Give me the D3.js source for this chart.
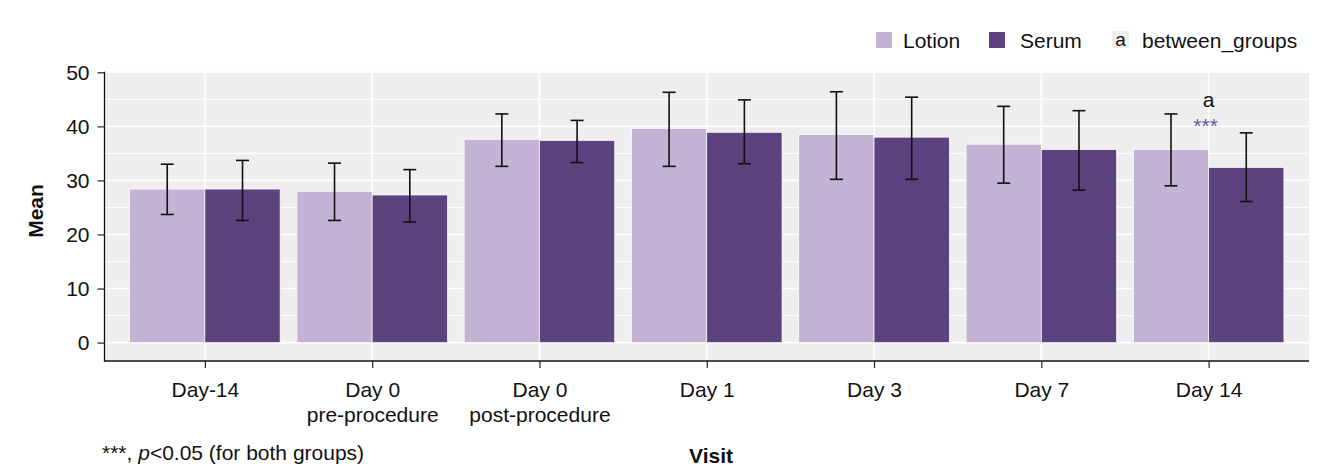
<!DOCTYPE html>
<html>
<head>
<meta charset="utf-8">
<script src="https://cdn.jsdelivr.net/npm/d3@7"></script>
<style>
  html, body { margin: 0; padding: 0; background: #fff; }
  svg { display: block; font-family: "Liberation Sans", Arial, sans-serif; }
</style>
</head>
<body>
<svg id="chart" width="1337" height="473"></svg>
<script>
// ---- data ----
const categories = ["Day-14", "Day 0\npre-procedure", "Day 0\npost-procedure", "Day 1", "Day 3", "Day 7", "Day 14"];
const groups = ["Lotion", "Serum"];
const lotionMean  = [28.4, 28.0, 37.6, 39.6, 38.5, 36.7, 35.7];
const lotionUpper = [33.0, 33.2, 42.3, 46.3, 46.4, 43.7, 42.3];
const lotionLower = [23.7, 22.6, 32.6, 32.6, 30.2, 29.5, 29.0];
const serumMean   = [28.4, 27.3, 37.4, 38.9, 38.0, 35.7, 32.4];
const serumUpper  = [33.7, 32.0, 41.1, 44.9, 45.4, 42.9, 38.8];
const serumLower  = [22.6, 22.3, 33.3, 33.1, 30.2, 28.2, 26.1];
const yTicks = [0, 10, 20, 30, 40, 50];
const yMinor = [5, 15, 25, 35, 45];
const betweenGroupsLetter = {category: "Day 14", label: "a"};
const significance = {category: "Day 14", label: "***"};
const footnote = ["***, ", "p", "<0.05 (for both groups)"];

const colors = {Lotion: "#c5b3d6", Serum: "#5c427e"};
const FS = 21;

const svg = d3.select("#chart");
const panel = {left: 104.5, right: 1309, top: 71.7, bottom: 361};

const x = d3.scalePoint().domain(categories).range([panel.left, panel.right]).padding(0.6);
const step = x.step();
const xg = d3.scaleBand().domain(groups).range([-0.45 * step, 0.45 * step]).padding(0);
const y = d3.scaleLinear().domain([0, 50]).range([342.6, 72.3]);

// panel background
svg.append("rect")
  .attr("x", panel.left).attr("y", panel.top)
  .attr("width", panel.right - panel.left).attr("height", panel.bottom - panel.top)
  .attr("fill", "#eeeeee");

// grid
const grid = svg.append("g");
grid.selectAll("line.minor").data(yMinor).join("line")
  .attr("x1", panel.left).attr("x2", panel.right)
  .attr("y1", d => y(d)).attr("y2", d => y(d))
  .attr("stroke", "#fff").attr("stroke-width", 1);
grid.selectAll("line.major").data(yTicks).join("line")
  .attr("x1", panel.left).attr("x2", panel.right)
  .attr("y1", d => y(d)).attr("y2", d => y(d))
  .attr("stroke", "#fff").attr("stroke-width", 1.6);
grid.selectAll("line.vert").data(categories).join("line")
  .attr("x1", d => x(d)).attr("x2", d => x(d))
  .attr("y1", panel.top).attr("y2", panel.bottom)
  .attr("stroke", "#fff").attr("stroke-width", 1.6);

// rows
const rows = [];
categories.forEach((c, i) => {
  rows.push({cat: c, group: "Lotion", mean: lotionMean[i], lo: lotionLower[i], hi: lotionUpper[i]});
  rows.push({cat: c, group: "Serum", mean: serumMean[i], lo: serumLower[i], hi: serumUpper[i]});
});

// bars
svg.append("g").selectAll("rect").data(rows).join("rect")
  .attr("x", d => x(d.cat) + xg(d.group))
  .attr("width", xg.bandwidth())
  .attr("y", d => y(d.mean))
  .attr("height", d => y(0) - y(d.mean))
  .attr("fill", d => colors[d.group])
  .attr("stroke", "#fff").attr("stroke-width", 0.7);

// error bars
const eb = svg.append("g").attr("stroke", "#111").attr("stroke-width", 1.6).attr("fill", "none");
const capW = 13;
rows.forEach(d => {
  const cx = x(d.cat) + xg(d.group) + xg.bandwidth() / 2;
  eb.append("line").attr("x1", cx).attr("x2", cx).attr("y1", y(d.hi)).attr("y2", y(d.lo));
  eb.append("line").attr("x1", cx - capW / 2).attr("x2", cx + capW / 2).attr("y1", y(d.hi)).attr("y2", y(d.hi));
  eb.append("line").attr("x1", cx - capW / 2).attr("x2", cx + capW / 2).attr("y1", y(d.lo)).attr("y2", y(d.lo));
});

// annotations
svg.append("text").attr("x", x(betweenGroupsLetter.category)).attr("y", 107)
  .attr("text-anchor", "middle").attr("font-size", 21).attr("fill", "#111")
  .text(betweenGroupsLetter.label);
svg.append("text").attr("x", x(significance.category) - 3).attr("y", 133)
  .attr("text-anchor", "middle").attr("font-size", 21).attr("fill", "#6f5aa3")
  .text(significance.label);

// y axis
const yAxis = d3.axisLeft(y).tickValues(yTicks).tickSize(7).tickPadding(8);
const gy = svg.append("g").attr("transform", `translate(${panel.left},0)`).call(yAxis);
gy.select(".domain").remove();
gy.selectAll(".tick line").attr("stroke", "#222").attr("stroke-width", 1.2);
gy.selectAll(".tick text").attr("font-size", FS).attr("fill", "#111")
  .attr("font-family", "Liberation Sans, Arial, sans-serif");
svg.append("line").attr("x1", panel.left).attr("x2", panel.left)
  .attr("y1", panel.top).attr("y2", panel.bottom + 0.6)
  .attr("stroke", "#111").attr("stroke-width", 1.3);

// x axis
const xAxis = d3.axisBottom(x).tickSize(7).tickPadding(0).tickFormat("");
const gx = svg.append("g").attr("transform", `translate(0,${panel.bottom})`).call(xAxis);
gx.select(".domain").remove();
gx.selectAll(".tick line").attr("stroke", "#222").attr("stroke-width", 1.2);
gx.selectAll(".tick").each(function(d) {
  const t = d3.select(this).append("text").attr("text-anchor", "middle")
    .attr("font-size", FS).attr("fill", "#111")
    .attr("font-family", "Liberation Sans, Arial, sans-serif");
  d.split("\n").forEach((line, i) => {
    t.append("tspan").attr("x", 0).attr("y", 36 + i * 25).text(line);
  });
});
svg.append("line").attr("x1", panel.left - 0.6).attr("x2", panel.right)
  .attr("y1", panel.bottom).attr("y2", panel.bottom)
  .attr("stroke", "#111").attr("stroke-width", 1.3);

// axis titles
svg.append("text").attr("transform", `translate(43,211) rotate(-90)`)
  .attr("text-anchor", "middle").attr("font-size", FS).attr("font-weight", "bold").attr("fill", "#111")
  .text("Mean");
svg.append("text").attr("x", 711).attr("y", 463)
  .attr("text-anchor", "middle").attr("font-size", FS).attr("font-weight", "bold").attr("fill", "#111")
  .text("Visit");

// footnote
const fn = svg.append("text").attr("x", 102).attr("y", 460).attr("font-size", FS).attr("fill", "#111");
fn.append("tspan").text(footnote[0]);
fn.append("tspan").attr("font-style", "italic").text(footnote[1]);
fn.append("tspan").text(footnote[2]);

// legend
const legend = svg.append("g");
const legendItems = [
  {label: "Lotion", fill: colors.Lotion, x: 876, tx: 903},
  {label: "Serum", fill: colors.Serum, x: 989, tx: 1020},
];
legendItems.forEach(it => {
  legend.append("rect").attr("x", it.x).attr("y", 32).attr("width", 16).attr("height", 16).attr("fill", it.fill);
  legend.append("text").attr("x", it.tx).attr("y", 47.5).attr("font-size", FS).attr("fill", "#111").text(it.label);
});
legend.append("rect").attr("x", 1112).attr("y", 31).attr("width", 17).attr("height", 17).attr("fill", "#eeeeee");
legend.append("text").attr("x", 1120.5).attr("y", 46).attr("text-anchor", "middle").attr("font-size", 19).attr("fill", "#111").text(betweenGroupsLetter.label);
legend.append("text").attr("x", 1142).attr("y", 47.5).attr("font-size", FS).attr("fill", "#111").text("between_groups");
</script>
</body>
</html>
